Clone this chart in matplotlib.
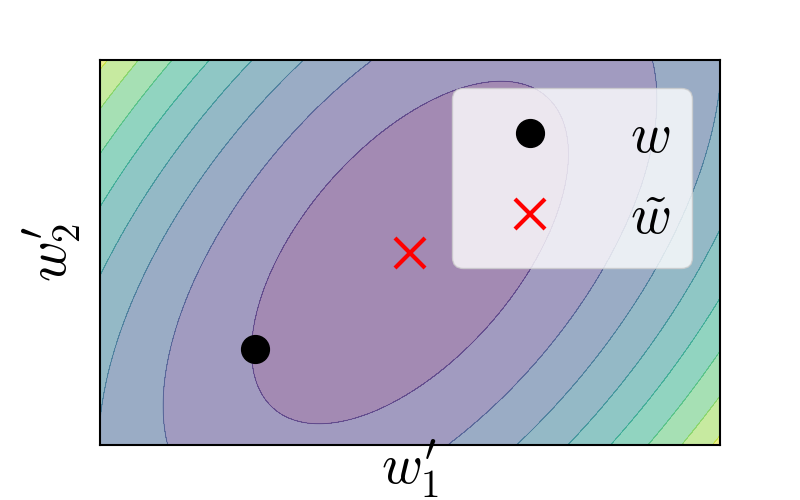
import numpy as np
import matplotlib
matplotlib.use("Agg")
import matplotlib.pyplot as plt

plt.rcParams["mathtext.fontset"] = "cm"

# quadratic bowl f(w) = (w - w_tilde)^T H (w - w_tilde) + f_min
H = np.array([[1.0, -0.33],
              [-0.33, 0.33]])
f_min = 0.3
w_tilde = np.array([0.0, 0.0])
w = np.array([-1.0, -1.0])
x_range = [-2.0, 2.0]
y_range = [-2.0, 2.0]
levels = [0, 1, 2, 3, 4, 5, 6, 7, 8, 9]

xs = np.linspace(x_range[0], x_range[1], 400)
ys = np.linspace(y_range[0], y_range[1], 400)
X, Y = np.meshgrid(xs, ys)
dX, dY = X - w_tilde[0], Y - w_tilde[1]
Z = H[0, 0] * dX**2 + 2 * H[0, 1] * dX * dY + H[1, 1] * dY**2 + f_min

fig, ax = plt.subplots(figsize=(8, 5), dpi=100)
ax.contourf(X, Y, Z, levels=levels, cmap="viridis", alpha=0.5)
ax.contour(X, Y, Z, levels=levels, cmap="viridis", alpha=0.5, linewidths=0.6)

ax.plot(w[0], w[1], "ko", markersize=20, label="$w$")
ax.plot(w_tilde[0], w_tilde[1], "rx", markersize=22, mew=3,
        label=r"$\tilde{w}$")

ax.set_xlim(x_range)
ax.set_ylim(y_range)
ax.set_xticks([])
ax.set_yticks([])
for s in ax.spines.values():
    s.set_linewidth(1.5)
ax.set_xlabel(r"$w^{\prime}_1$", fontsize=40, labelpad=-5)
ax.set_ylabel(r"$w^{\prime}_2$", fontsize=40, labelpad=12)
ax.legend(loc="upper right", fontsize=40)

fig.savefig("out.png")
